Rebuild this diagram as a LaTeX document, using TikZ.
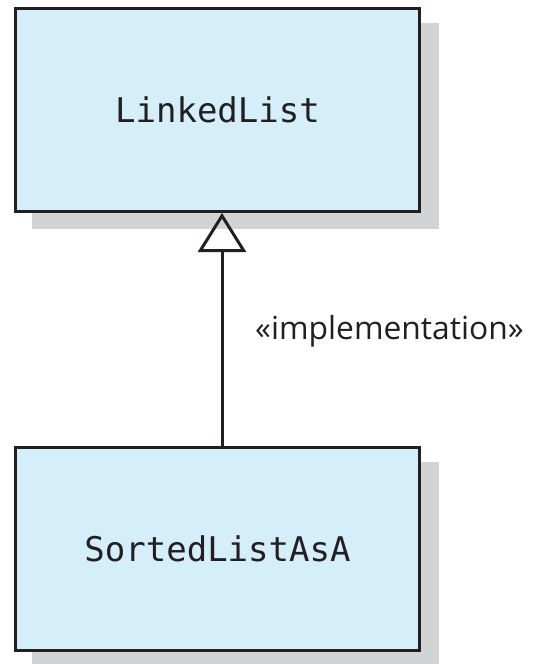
\documentclass[tikz,border=0pt]{standalone}
\usepackage{fontspec}
\setmainfont{Open Sans}
\newfontfamily\codefont{DejaVu Sans Mono}
\usetikzlibrary{arrows.meta,backgrounds}
\definecolor{classfill}{HTML}{D4EEFA}
\definecolor{shadowgray}{HTML}{D2D3D5}
\definecolor{inkline}{HTML}{231F20}
\begin{document}
\begin{tikzpicture}[x=1pt,y=-1pt,
  classbox/.style={draw=inkline, fill=classfill, line width=3pt,
    minimum width=404pt, minimum height=203pt, inner sep=0pt,
    font=\codefont\fontsize{34}{40}\selectfont, text=inkline},
  boxshadow/.style={fill=shadowgray},
  realize/.style={draw=inkline, line width=3pt,
    -{Triangle[open, length=39pt, width=48pt]}},
  stereo/.style={font=\fontsize{31.8}{36}\selectfont, text=inkline, inner sep=0pt}]
\useasboundingbox (0,0) rectangle (533,664);
% class boxes
\node[classbox] (list) at (217.5,110) {LinkedList};
\node[classbox] (sorted) at (217.5,548.5) {SortedListAsA};
% drop shadows behind the boxes
\begin{scope}[on background layer]
  \fill[boxshadow] ([xshift=18pt,yshift=-16pt]list.south west) rectangle ([xshift=18pt,yshift=-16pt]list.north east);
  \fill[boxshadow] ([xshift=18pt,yshift=-16pt]sorted.south west) rectangle ([xshift=18pt,yshift=-16pt]sorted.north east);
\end{scope}
% realization arrow
\draw[realize] ([xshift=4.5pt]sorted.north) -- ([xshift=4.5pt]list.south);
\node[stereo, anchor=base west] (impl) at (255,339) {«implementation»};
\end{tikzpicture}
\end{document}
